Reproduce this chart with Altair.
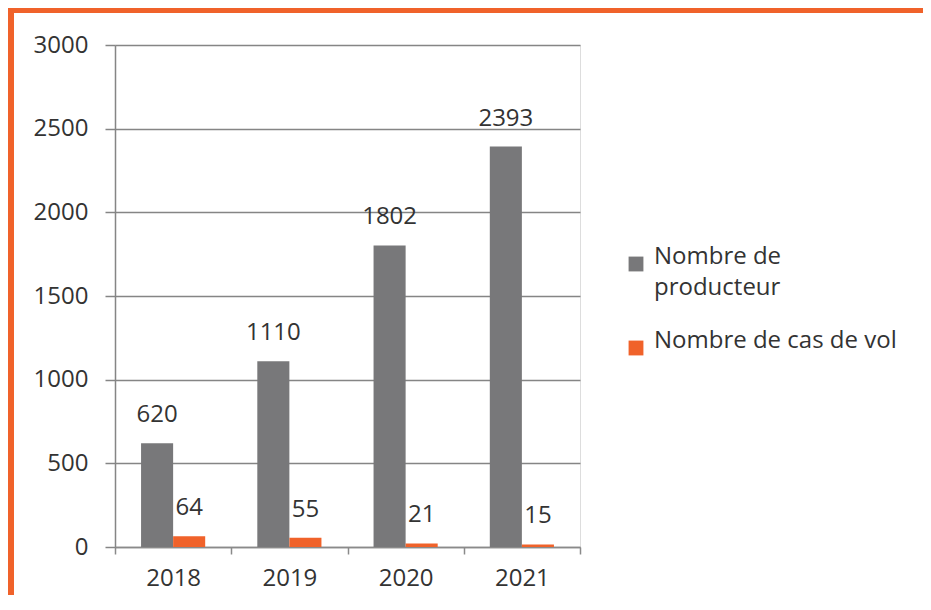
import altair as alt
import pandas as pd

years = ["2018", "2019", "2020", "2021"]
series = ["Nombre de producteur", "Nombre de cas de vol"]
producteurs = [620, 1110, 1802, 2393]
vols = [64, 55, 21, 15]
colors = ["#78787a", "#f0622a"]
frame_color = "#f0622a"
FONT = "Open Sans"

rows = []
for i, y in enumerate(years):
    rows.append({"annee": y, "serie": series[0], "valeur": producteurs[i]})
    rows.append({"annee": y, "serie": series[1], "valeur": vols[i]})
df = pd.DataFrame(rows)

base = alt.Chart(df).encode(
    x=alt.X("annee:N", sort=years,
            scale=alt.Scale(paddingInner=0, paddingOuter=0),
            axis=alt.Axis(title=None, labelAngle=0, tickBand="extent", tickSize=7,
                          labelFontSize=24, labelPadding=12, labelColor="#333333",
                          labelFont=FONT, domainColor="#8a8a8a", tickColor="#8a8a8a",
                          domainWidth=1.5, tickWidth=1.5, grid=False)),
    xOffset=alt.XOffset("serie:N", sort=series,
                        scale=alt.Scale(paddingInner=0, paddingOuter=0.8125)),
)

bars = base.mark_bar().encode(
    y=alt.Y("valeur:Q", scale=alt.Scale(domain=[0, 3000]),
            axis=alt.Axis(title=None, values=[0, 500, 1000, 1500, 2000, 2500, 3000],
                          format="d",
                          grid=True, gridColor="#858585", gridWidth=1.5,
                          domainColor="#858585", domainWidth=1.5,
                          tickColor="#858585", tickWidth=1.5, tickSize=10,
                          labelPadding=17, labelFontSize=24, labelFont=FONT,
                          labelColor="#333333")),
    color=alt.Color("serie:N", sort=series,
                    scale=alt.Scale(domain=series, range=colors),
                    legend=alt.Legend(title=None, orient="none", legendX=509, legendY=207,
                                      symbolType="square", symbolSize=220, symbolStrokeWidth=0,
                                      labelFontSize=24, labelFont=FONT, labelColor="#333333",
                                      labelLimit=400, labelBaseline="alphabetic",
                                      labelExpr="datum.label == 'Nombre de producteur' ? ['Nombre de', 'producteur'] : datum.label",
                                      rowPadding=29, labelOffset=6)),
)

labels = base.mark_text(baseline="alphabetic", dy=-21, fontSize=24, font=FONT, color="#333333").encode(
    y=alt.Y("valeur:Q"),
    text=alt.Text("valeur:Q"),
)

frame_left = alt.Chart(alt.Data(values=[{"k": 1}])).mark_rect(color=frame_color).encode(
    x=alt.value(-107), x2=alt.value(-101), y=alt.value(-37), y2=alt.value(560))
frame_top = alt.Chart(alt.Data(values=[{"k": 1}])).mark_rect(color=frame_color).encode(
    x=alt.value(-107), x2=alt.value(820), y=alt.value(-37), y2=alt.value(-32))

chart = alt.layer(bars, labels, frame_left, frame_top).properties(
    width=465, height=502,
    autosize=alt.AutoSizeParams(type="none"),
    padding={"left": 107, "top": 37, "right": 343, "bottom": 48},
    background="white",
).configure_view(stroke=None).configure(
    style={"guide-label": {"lineHeight": 31}}
)

chart.save("out.html", embed_options={"renderer": "svg", "actions": False})
